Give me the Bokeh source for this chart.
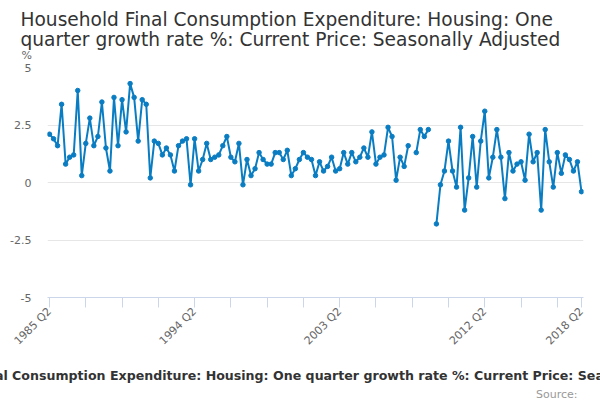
import math
from bokeh.plotting import figure
from bokeh.models import Title, FixedTicker, Range1d, ColumnDataSource
from bokeh.embed import file_html
from bokeh.resources import INLINE

TITLE = "Household Final Consumption Expenditure: Housing: One quarter growth rate %: Current Price: Seasonally Adjusted"
TITLE_LINE1 = "Household Final Consumption Expenditure: Housing: One"
TITLE_LINE2 = "quarter growth rate %: Current Price: Seasonally Adjusted"
SOURCE = "Source:"
UNIT = "%"

start_year, start_q = 1985, 2

values = [
    2.1, 1.9, 1.6, 3.4, 0.8, 1.1, 1.2, 4.0, 0.3, 1.7,
    2.8, 1.6, 2.0, 3.5, 1.5, 0.5, 3.7, 1.6, 3.6, 2.2,
    4.3, 3.7, 1.8, 3.6, 3.4, 0.2, 1.8, 1.7, 1.2, 1.5,
    1.2, 0.5, 1.6, 1.8, 1.9, -0.1, 1.9, 0.5, 1.0, 1.7,
    1.0, 1.1, 1.2, 1.6, 2.0, 1.1, 0.9, 1.7, -0.1, 1.0,
    0.3, 0.6, 1.3, 1.0, 0.8, 0.8, 1.3, 1.3, 1.0, 1.4,
    0.3, 0.6, 1.0, 1.3, 1.1, 1.0, 0.3, 0.9, 0.5, 0.7,
    1.1, 0.5, 0.6, 1.3, 0.8, 1.3, 0.9, 1.1, 1.5, 1.1,
    2.2, 0.8, 1.1, 1.2, 2.4, 2.0, 0.1, 1.1, 0.7, 1.6,
    None, 1.3, 2.3, 2.0, 2.3, None, -1.8, -0.1, 0.5, 1.8,
    0.5, -0.2, 2.4, -1.2, 0.2, 2.0, -0.2, 1.8, 3.1, 0.2,
    1.1, 2.3, 1.1, -0.7, 1.3, 0.5, 0.8, 0.9, 0.1, 2.1,
    0.9, 1.3, -1.2, 2.3, 0.9, -0.2, 1.3, 0.4, 1.2, 1.0,
    0.5, 0.9, -0.4,
]

quarters = []
y, q = start_year, start_q
for _ in values:
    quarters.append(f"{y} Q{q}")
    q += 1
    if q > 4:
        q = 1
        y += 1

y_ticks = [-5, -2.5, 0, 2.5, 5]
y_tick_labels = ["-5", "-2.5", "0", "2.5", "5"]
x_tick_step = 9
x_label_quarters = ["1985 Q2", "1994 Q2", "2003 Q2", "2012 Q2", "2018 Q2"]

idx = list(range(len(values)))
vals = [float("nan") if v is None else v for v in values]
src = ColumnDataSource(dict(x=idx, y=vals, q=quarters))

W, H = 600, 400
FL, FR, FT, FB = 47, 583, 67, 297  # frame edges in page pixels
p = figure(width=W, height=H, output_backend="svg", toolbar_location=None,
           x_range=Range1d(-0.5, len(values) - 0.5), y_range=Range1d(-5, 5),
           min_border_left=FL, min_border_right=W - FR, min_border_top=FT, min_border_bottom=H - FB)
p.outline_line_color = None
p.background_fill_color = "white"
p.border_fill_color = "white"

p.line("x", "y", source=src, line_color="#0a7dc2", line_width=2)
p.scatter("x", "y", source=src, size=4.5, fill_color="#0a7dc2", line_color="#0a7dc2")

# x axis
xt = list(range(0, len(values), x_tick_step))
if len(values) - 1 not in xt:
    xt.append(len(values) - 1)
p.xaxis.ticker = FixedTicker(ticks=xt)
p.xaxis.major_label_overrides = {t: (quarters[t] if quarters[t] in x_label_quarters else "") for t in xt}
p.xaxis.major_label_orientation = math.pi / 4
p.xaxis.axis_line_color = "#ccd6eb"
p.xaxis.major_tick_line_color = "#ccd6eb"
p.xaxis.major_tick_out = 10
p.xaxis.major_tick_in = 0
p.xaxis.minor_tick_line_color = None
p.xaxis.major_label_text_font = "DejaVu Sans"
p.xaxis.major_label_text_font_size = "11px"
p.xaxis.major_label_text_color = "#666666"
p.xaxis.major_label_standoff = 2
p.xgrid.grid_line_color = None

# y axis
p.yaxis.ticker = FixedTicker(ticks=y_ticks)
p.yaxis.major_label_overrides = dict(zip(y_ticks, y_tick_labels))
p.yaxis.axis_line_color = None
p.yaxis.major_tick_line_color = None
p.yaxis.minor_tick_line_color = None
p.yaxis.major_tick_out = 0
p.yaxis.major_label_standoff = 16
p.yaxis.major_label_text_font = "DejaVu Sans"
p.yaxis.major_label_text_font_size = "11px"
p.yaxis.major_label_text_color = "#666666"
p.ygrid.grid_line_color = "#e6e6e6"

def title(text, place, size, color, align="center", offset=0, standoff=0, style="normal", lh=1.2):
    p.add_layout(Title(text=text, align=align, offset=offset, standoff=standoff,
                       text_line_height=lh,
                       text_font="DejaVu Sans", text_font_size=size, text_color=color,
                       text_font_style=style), place)

# above: nearest to the frame first
title(UNIT, "above", "11px", "#666666", align="left", offset=-26, standoff=12)
title(TITLE_LINE2, "above", "18.6px", "#333333", align="left", offset=-27, standoff=-18)
title(TITLE_LINE1, "above", "18.6px", "#333333", align="left", offset=-27, standoff=12)
# below: after the x axis
title(TITLE, "below", "12.6px", "#333333", align="left", offset=-154, standoff=20,
      style="bold", lh=1.0)
title(SOURCE, "below", "11px", "#999999", align="right", offset=6, standoff=-13)

open("out.html", "w").write(file_html(p, INLINE))
